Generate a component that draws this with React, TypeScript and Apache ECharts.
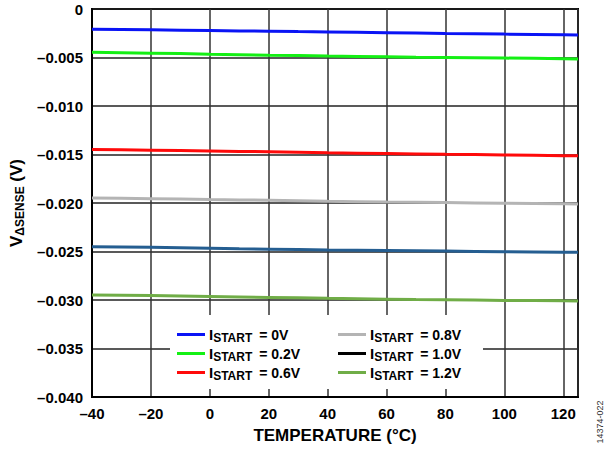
import React, { useEffect, useRef } from "react";
import * as echarts from "echarts";

const temps = [-40, -30, -20, -10, 0, 10, 20, 30, 40, 50, 60, 70, 80, 90, 100, 110, 120, 125];

const v0 = [-0.00209, -0.00211, -0.00214, -0.00218, -0.00222, -0.00226, -0.00229, -0.00233, -0.00236, -0.0024, -0.00244, -0.00248, -0.00252, -0.00255, -0.00259, -0.00262, -0.00266, -0.00268];
const v02 = [-0.00446, -0.0045, -0.00455, -0.0046, -0.00466, -0.00471, -0.00476, -0.0048, -0.00485, -0.00489, -0.00493, -0.00497, -0.005, -0.00503, -0.00506, -0.00509, -0.00513, -0.00515];
const v06 = [-0.01449, -0.01452, -0.01456, -0.0146, -0.01464, -0.01468, -0.01472, -0.01477, -0.01482, -0.01486, -0.0149, -0.01494, -0.01498, -0.01501, -0.01505, -0.01508, -0.01512, -0.01514];
const v08 = [-0.01948, -0.01951, -0.01955, -0.01959, -0.01964, -0.01968, -0.01972, -0.01977, -0.01982, -0.01986, -0.0199, -0.01993, -0.01996, -0.01999, -0.02002, -0.02005, -0.02008, -0.0201];
const v10 = [-0.0245, -0.02453, -0.02457, -0.02462, -0.02467, -0.02472, -0.02476, -0.0248, -0.02484, -0.02487, -0.0249, -0.02493, -0.02496, -0.02499, -0.02502, -0.02504, -0.02507, -0.02508];
const v12 = [-0.02948, -0.0295, -0.02954, -0.02958, -0.02963, -0.02968, -0.02973, -0.02978, -0.02983, -0.02987, -0.02991, -0.02995, -0.02998, -0.03001, -0.03004, -0.03006, -0.03009, -0.0301];

const seriesNames = ["0V", "0.2V", "0.6V", "0.8V", "1.0V", "1.2V"];
const seriesData = [v0, v02, v06, v08, v10, v12];
const seriesColors = ["#0a14f5", "#14f014", "#ff0a0a", "#b4b4b4", "#255e91", "#70ad47"];

const FONT = "'Liberation Sans', Arial, Helvetica, sans-serif";

export default function App() {
  const ref = useRef<HTMLDivElement>(null);
  useEffect(() => {
    if (!ref.current) return;
    const chart = echarts.init(ref.current, null, { renderer: "svg" });
    const legendRich = {
      i: { fontSize: 15, fontWeight: "bold", fontFamily: FONT, color: "#000", lineHeight: 18 },
      s: { fontSize: 12, fontWeight: "bold", fontFamily: FONT, color: "#000", lineHeight: 18, padding: [7, 0, 0, 0] },
      t: { fontSize: 14, fontWeight: "bold", fontFamily: FONT, color: "#000", lineHeight: 18, padding: [0, 0, 0, 3] },
    };
    const legendCommon = {
      orient: "vertical",
      top: 325,
      padding: 0,
      itemGap: 0,
      itemWidth: 28,
      itemHeight: 3,
      icon: "rect",
      z: 5,
      formatter: (n: string) => `{i|I}{s|START}{t| = ${n}}`,
      textStyle: { rich: legendRich, padding: [0, 0, 0, -1] },
    };
    chart.setOption({
      animation: false,
      backgroundColor: "#fff",
      textStyle: { fontFamily: FONT },
      grid: {
        left: 92,
        right: 27,
        top: 9,
        bottom: 53,
        outerBoundsMode: "none",
        containLabel: false,
        show: true,
        borderColor: "#000",
        borderWidth: 2,
      },
      legend: [
        { ...legendCommon, left: 177, data: ["0V", "0.2V", "0.6V"] },
        { ...legendCommon, left: 338, data: ["0.8V", { name: "1.0V", itemStyle: { color: "#000" } }, "1.2V"] },
      ],
      graphic: [
        { type: "rect", z: 3, shape: { x: 170, y: 315, width: 313, height: 74 }, style: { fill: "#fff" } },
        {
          type: "text",
          x: 600,
          y: 422,
          rotation: Math.PI / 2,
          style: { text: "14374-022", fontSize: 9, fontFamily: FONT, fill: "#333", align: "center", verticalAlign: "middle" },
        },
      ],
      xAxis: {
        type: "value",
        min: -40,
        max: 125,
        interval: 20,
        name: "TEMPERATURE (°C)",
        nameLocation: "middle",
        nameGap: 30,
        nameTextStyle: { fontSize: 17, fontWeight: "bold", color: "#000", fontFamily: FONT },
        axisLine: { show: true, onZero: false, lineStyle: { color: "#000", width: 2 } },
        axisTick: { show: false },
        axisLabel: {
          showMaxLabel: false,
          margin: 9,
          fontSize: 15,
          fontWeight: "bold",
          color: "#000",
          fontFamily: FONT,
          formatter: (v: number) => (v === 125 ? "" : v < 0 ? "–" + Math.abs(v) : String(v)),
        },
        splitLine: { show: true, lineStyle: { color: "#333", width: 1.5 } },
      },
      yAxis: {
        type: "value",
        min: -0.04,
        max: 0,
        interval: 0.005,
        name: "{v|V}{s|ΔSENSE}{t| (V)}",
        nameLocation: "middle",
        nameRotate: 90,
        nameGap: 65,
        nameTextStyle: {
          rich: {
            v: { fontSize: 17, fontWeight: "bold", color: "#000", fontFamily: FONT, lineHeight: 22 },
            s: { fontSize: 12, fontWeight: "bold", color: "#000", fontFamily: FONT, lineHeight: 22, padding: [8, 0, 0, 0] },
            t: { fontSize: 17, fontWeight: "bold", color: "#000", fontFamily: FONT, lineHeight: 22 },
          },
        },
        axisLine: { show: true, onZero: false, lineStyle: { color: "#000", width: 2 } },
        axisTick: { show: false },
        axisLabel: {
          margin: 9,
          fontSize: 15,
          fontWeight: "bold",
          color: "#000",
          fontFamily: FONT,
          formatter: (v: number) => (Math.abs(v) < 1e-9 ? "0" : "–" + Math.abs(v).toFixed(3)),
        },
        splitLine: { show: true, lineStyle: { color: "#222", width: 1.5 } },
      },
      series: seriesNames.map((name, k) => ({
        name,
        type: "line",
        showSymbol: false,
        symbol: "none",
        z: 2,
        color: seriesColors[k],
        lineStyle: { width: 3, color: seriesColors[k] },
        data: temps.map((t, i) => [t, seriesData[k][i]]),
      })),
    });
    return () => chart.dispose();
  }, []);
  return <div ref={ref} style={{ position: "fixed", left: 0, top: 0, width: 605, height: 450 }} />;
}
